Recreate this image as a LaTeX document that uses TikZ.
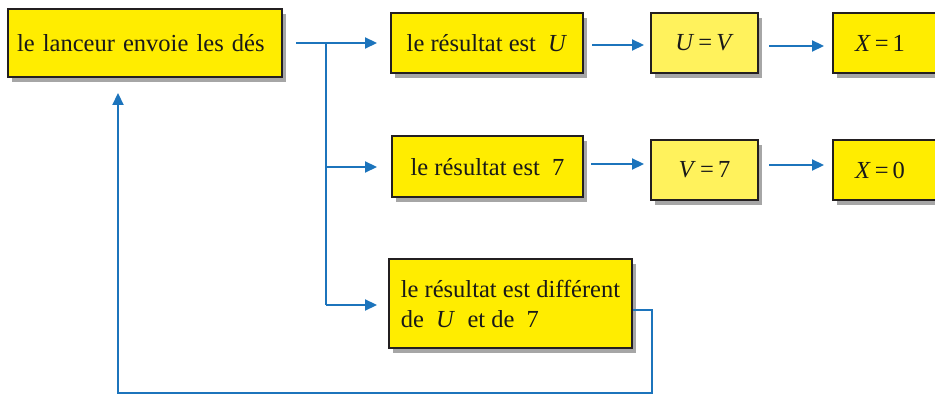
\documentclass[tikz,border=0pt]{standalone}
\usepackage{fontspec}
\setmainfont{Liberation Serif}
\usetikzlibrary{arrows.meta,shadows}
\definecolor{flowblue}{RGB}{28,116,188}
\definecolor{boxyellow}{RGB}{255,237,0}
\definecolor{paleyellow}{RGB}{255,242,92}
\definecolor{boxborder}{RGB}{35,31,32}
\tikzset{
  box/.style={draw=boxborder, line width=2pt, fill=boxyellow,
    drop shadow={shadow xshift=4pt, shadow yshift=-5pt, fill=black, opacity=0.35},
    font=\fontsize{24.5}{30}\selectfont, inner sep=0pt, text=black!90},
  palebox/.style={box, fill=paleyellow},
  flow/.style={draw=flowblue, line width=2.2pt, -{Triangle[length=12pt,width=11pt]}},
  flowline/.style={draw=flowblue, line width=2.2pt},
}
\newcommand{\vi}[1]{\textit{#1}}
\begin{document}
\begin{tikzpicture}[x=1pt,y=-1pt]
\useasboundingbox (0,0) rectangle (935,398);
\clip (0,0) rectangle (935,398);
% boxes
\node[box, minimum width=274pt, minimum height=68pt, text width=256pt, align=left] (start) at (145,43) {\mbox{le lanceur envoie les dés}};
\node[box, minimum width=192pt, minimum height=60pt] (rU) at (487,43) {le résultat est\ \ \vi{U}};
\node[palebox, minimum width=107pt, minimum height=60pt] (UV) at (704.5,43) {\vi{U}\,=\,\vi{V}};
\node[box, minimum width=130pt, minimum height=60pt, text width=86pt, align=left] (X1) at (898,43) {\mbox{\vi{X}\,=\,1}};
\node[box, minimum width=191pt, minimum height=61pt] (r7) at (487.5,167) {le résultat est\ \ 7};
\node[palebox, minimum width=107pt, minimum height=60pt] (V7) at (704.5,170) {\vi{V}\,=\,7};
\node[box, minimum width=130pt, minimum height=60pt, text width=86pt, align=left] (X0) at (898,170) {\mbox{\vi{X}\,=\,0}};
\node[box, minimum width=243pt, minimum height=89pt, align=left] (rD) at (510.5,303.5) {le résultat est différent\\de\ \ \vi{U}\ \ et de\ \ 7};
% connectors
\coordinate (branch) at (326,43);
\coordinate (b2) at (326,167);
\coordinate (b3) at (326,305);
\draw[flow, shorten <=13pt, shorten >=13pt] (start.east) -- (rU.west);
\draw[flowline] (branch) -- (b3);
\draw[flow, shorten >=14pt] (b2) -- (r7.west |- b2);
\draw[flow, shorten >=11pt] (b3) -- (rD.west |- b3);
\draw[flow, shorten <=8pt, shorten >=6pt] ([yshift=-2pt]rU.east) -- ([yshift=-2pt]rU.east -| UV.west);
\draw[flow, shorten <=10pt, shorten >=8pt] ([yshift=-3pt]UV.east) -- ([yshift=-3pt]UV.east -| X1.west);
\draw[flow, shorten <=7pt, shorten >=6pt] ([yshift=3pt]r7.east) -- ([yshift=3pt]r7.east -| V7.west);
\draw[flow, shorten <=10pt, shorten >=8pt] ([yshift=5pt]V7.east) -- ([yshift=5pt]V7.east -| X0.west);
\coordinate (r1) at (652,310);
\coordinate (r2) at (652,393);
\coordinate (r3) at (118,393);
\draw[flow, shorten >=15pt] (rD.east |- r1) -- (r1) -- (r2) -- (r3) -- (r3 |- start.south);
\end{tikzpicture}
\end{document}
